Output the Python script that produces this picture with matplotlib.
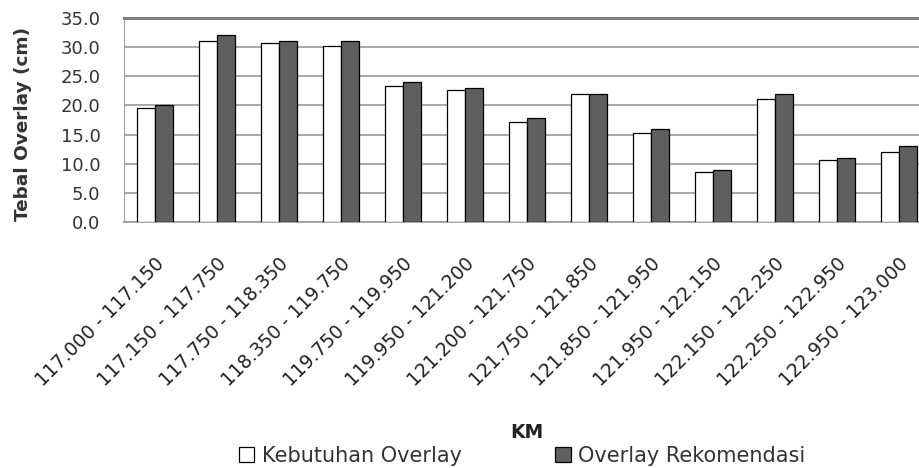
import matplotlib
matplotlib.use('Agg')
from matplotlib import pyplot as plt
import numpy as np

# Data.
segments = ['117.000 - 117.150', '117.150 - 117.750', '117.750 - 118.350',
            '118.350 - 119.750', '119.750 - 119.950', '119.950 - 121.200',
            '121.200 - 121.750', '121.750 - 121.850', '121.850 - 121.950',
            '121.950 - 122.150', '122.150 - 122.250', '122.250 - 122.950',
            '122.950 - 123.000']
kebutuhan = [19.5, 31.0, 30.7, 30.2, 23.4, 22.7, 17.1, 21.9, 15.3, 8.6, 21.1, 10.7, 12.0]
rekomendasi = [20.0, 32.0, 31.0, 31.0, 24.0, 23.0, 17.8, 21.9, 16.0, 9.0, 21.9, 11.0, 13.0]
y_ticks = [0, 5, 10, 15, 20, 25, 30, 35]

plt.rcParams['font.family'] = ['DejaVu Sans']

fig = plt.figure(figsize=(9.19, 4.68), dpi=100)
ax = fig.add_axes([124 / 919, 246 / 468, 806 / 919, 204 / 468])

x = np.arange(len(segments))
w = 0.29
ax.bar(x - w / 2, kebutuhan, w, color='white', edgecolor='black', linewidth=0.9,
       label='Kebutuhan Overlay', zorder=3)
ax.bar(x + w / 2, rekomendasi, w, color='#5f5f5f', edgecolor='black', linewidth=0.9,
       label='Overlay Rekomendasi', zorder=3)

# Format plot.
ax.set_xlim(-0.5, len(segments) - 0.5)
ax.set_ylim(0, 35)
ax.set_yticks(y_ticks)
ax.set_yticklabels(['%.1f' % v for v in y_ticks], fontsize=13, color='#333333')
ax.yaxis.grid(True, color='#a0a0a0', linewidth=1.3, zorder=0)
ax.tick_params(axis='y', length=0, pad=17)

ax.set_xticks(x)
ax.set_xticklabels(segments, rotation=45, ha='right', rotation_mode='anchor',
                   fontsize=13.5, color='#222222')
ax.tick_params(axis='x', length=0, pad=23)

ax.spines['right'].set_visible(False)
ax.spines['top'].set_color('#808080')
ax.spines['top'].set_linewidth(2.2)
ax.spines['left'].set_color('#a0a0a0')
ax.spines['bottom'].set_color('#a0a0a0')
ax.spines['bottom'].set_linewidth(1.3)

ax.set_ylabel('Tebal Overlay (cm)', fontsize=13.3, fontweight='bold',
              color='#333333', labelpad=10)
ax.yaxis.set_label_coords(-92 / 806, 0.48)
fig.text(527 / 919, 1 - 432 / 468, 'KM', fontsize=13.5, fontweight='bold',
         ha='center', va='center', color='#222222')

fig.legend(loc='center', bbox_to_anchor=(522 / 919, 1 - 456 / 468), ncol=2,
           frameon=False, fontsize=15, handlelength=0.75, handleheight=0.75,
           handletextpad=0.35, columnspacing=4.5, labelcolor='#333333')

fig.savefig('out.png', dpi=100)
